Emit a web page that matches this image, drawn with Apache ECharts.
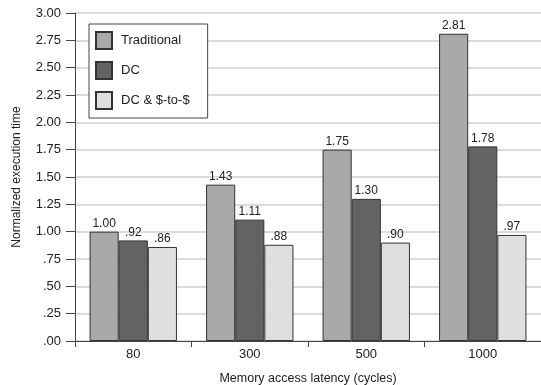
<!DOCTYPE html>
<html><head><meta charset="utf-8">
<script src="https://cdn.jsdelivr.net/npm/echarts@6/dist/echarts.min.js"></script>
<style>html,body{margin:0;padding:0;background:#fff}#c{width:541px;height:385px}</style>
</head><body><div id="c"></div>
<script>
const categories = ['80', '300', '500', '1000'];
const traditional = [1.00, 1.43, 1.75, 2.81];
const dc = [0.92, 1.11, 1.30, 1.78];
const dcCache = [0.86, 0.88, 0.90, 0.97];
const seriesNames = ['Traditional', 'DC', 'DC & $-to-$'];
const colors = ['#a9a9a9', '#636363', '#dfdfdf'];

function fmt(v) {
  let s = Number(v).toFixed(2);
  if (s.startsWith('0')) s = s.slice(1);
  return s;
}
const font = 'Liberation Sans, Arial, sans-serif';
const chart = echarts.init(document.getElementById('c'));
const mk = (name, data, color) => ({
  name, type: 'bar', data, barGap: '0%', barCategoryGap: '25%',
  itemStyle: { color, borderColor: '#333', borderWidth: 1 },
  label: { show: true, position: 'top', distance: 2, formatter: p => fmt(p.value),
    fontFamily: font, fontSize: 12, color: '#222' }
});
chart.setOption({
  animation: false,
  textStyle: { fontFamily: font },
  grid: { left: 75, right: 0, top: 13, bottom: 44, containLabel: false, outerBoundsMode: 'none' },
  legend: {
    data: seriesNames, orient: 'vertical', left: 89, top: 24,
    backgroundColor: '#fff', borderColor: '#444', borderWidth: 1,
    padding: [7, 18, 8, 6], itemWidth: 16, itemHeight: 17, itemGap: 11,
    icon: 'rect', textStyle: { fontFamily: font, fontSize: 13, color: '#222', padding: [0, 0, 0, 4] }
  },
  xAxis: {
    type: 'category', data: categories,
    name: 'Memory access latency (cycles)', nameLocation: 'middle', nameGap: 31,
    nameTextStyle: { fontFamily: font, fontSize: 12.5, color: '#222' },
    axisLine: { lineStyle: { color: '#444' } },
    axisTick: { show: true, length: 6, interval: 0, lineStyle: { color: '#444' } },
    axisLabel: { fontFamily: font, fontSize: 13, color: '#222', margin: 7 }
  },
  yAxis: {
    type: 'value', min: 0, max: 3, interval: 0.25,
    name: 'Normalized execution time', nameLocation: 'middle', nameGap: 52,
    nameTextStyle: { fontFamily: font, fontSize: 12, color: '#222' },
    axisLine: { show: true, lineStyle: { color: '#444' } },
    axisTick: { show: true, length: 9, lineStyle: { color: '#444' } },
    axisLabel: { formatter: fmt, fontFamily: font, fontSize: 13, color: '#222', margin: 14 },
    splitLine: { lineStyle: { color: '#cfcfcf', width: 1.5 } }
  },
  series: [
    mk(seriesNames[0], traditional, colors[0]),
    mk(seriesNames[1], dc, colors[1]),
    mk(seriesNames[2], dcCache, colors[2])
  ]
});
</script></body></html>
